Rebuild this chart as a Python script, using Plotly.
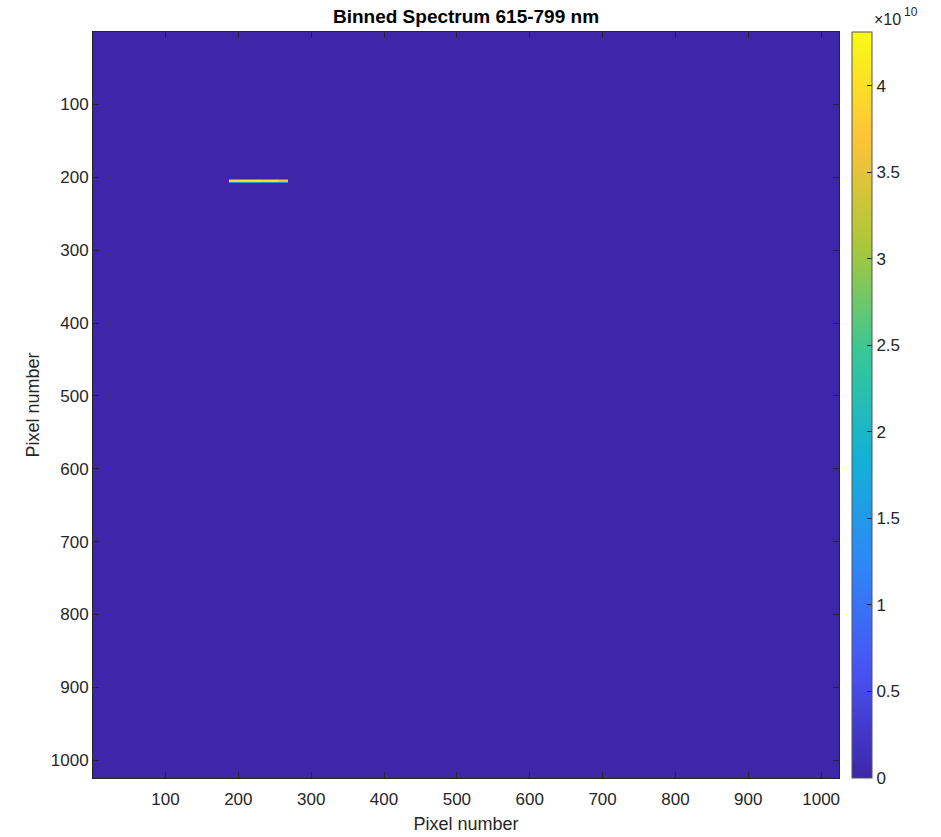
import numpy as np
import plotly.graph_objects as go

# ---- data (pixel indices and intensities) ----
x_edges = [0.5, 186.5, 200.5, 230.5, 255.5, 268.5, 1024.5]          # column bin edges
y_edges = [0.5, 202.5, 203.5, 204.5, 205.5, 206.5, 207.5, 1024.5]   # row bin edges
background = 0.0
# intensities of the bright line (rows 203..207, column segments 187-200, 201-230, 231-255, 256-268)
line_row203 = [1.6e10, 1.7e10, 1.6e10, 1.4e10]
line_row204 = [4.0e10, 4.1e10, 4.0e10, 3.7e10]
line_row205 = [4.25e10, 4.3e10, 4.25e10, 3.9e10]
line_row206 = [3.9e10, 4.0e10, 3.9e10, 3.6e10]
line_row207 = [1.4e10, 1.5e10, 1.4e10, 1.2e10]
cmin, cmax = 0.0, 4.31e10
x_ticks = [100, 200, 300, 400, 500, 600, 700, 800, 900, 1000]
y_ticks = [100, 200, 300, 400, 500, 600, 700, 800, 900, 1000]
cb_ticks = [0, 0.5, 1, 1.5, 2, 2.5, 3, 3.5, 4]
cb_labels = ["0", "0.5", "1", "1.5", "2", "2.5", "3", "3.5", "4"]

# build brick grid
ncols = len(x_edges) - 1
nrows = len(y_edges) - 1
z = np.full((nrows, ncols), background)
for r, row in enumerate([line_row203, line_row204, line_row205, line_row206, line_row207]):
    z[r + 1, 1:1 + len(row)] = row

parula = [
    [0.0, "rgb(62,38,168)"],
    [0.1429, "rgb(72,82,244)"],
    [0.2857, "rgb(46,135,247)"],
    [0.4286, "rgb(18,177,214)"],
    [0.5714, "rgb(55,200,151)"],
    [0.7143, "rgb(171,199,57)"],
    [0.8571, "rgb(254,195,56)"],
    [1.0, "rgb(249,251,21)"],
]

FONT = "Liberation Sans, Arial"

fig = go.Figure(go.Heatmap(
    z=z, x=x_edges, y=y_edges,
    colorscale=parula, zmin=cmin, zmax=cmax,
    colorbar=dict(
        x=(852 - 93) / 746, xanchor="left", xref="paper",
        y=0.5, yanchor="middle", len=1, lenmode="fraction",
        thickness=20, outlinewidth=1, outlinecolor="#555555",
        ticks="inside", ticklen=5, tickcolor="#262626",
        tickvals=[v * 1e10 for v in cb_ticks], ticktext=cb_labels,
        tickfont=dict(family=FONT, size=17, color="#262626"),
        ypad=0, xpad=0,
    ),
    showscale=True,
))

axis_common = dict(
    showline=True, linecolor="#262626", linewidth=1, mirror="ticks",
    ticks="inside", ticklen=6, tickcolor="#262626",
    showgrid=False, zeroline=False, automargin=False,
    tickfont=dict(family=FONT, size=17, color="#262626"),
)

fig.update_layout(
    width=941, height=837,
    margin=dict(l=93, r=102, t=32, b=59),
    paper_bgcolor="white", plot_bgcolor="white",
    title=dict(text="<b>Binned Spectrum 615-799 nm</b>", x=(93 + 373) / 941, xanchor="center",
               y=1 - 16 / 837, yanchor="middle", yref="container",
               font=dict(family=FONT, size=19, color="black")),
    xaxis=dict(range=[0.5, 1024.5], tickvals=x_ticks, ticklabelstandoff=6,
               title=dict(text="Pixel number", standoff=8,
                          font=dict(family=FONT, size=18, color="#262626")),
               **axis_common),
    yaxis=dict(range=[1024.5, 0.5], tickvals=y_ticks,
               title=dict(text="Pixel number", standoff=6,
                          font=dict(family=FONT, size=18, color="#262626")),
               **axis_common),
    annotations=[
        dict(text="×10", xref="paper", yref="paper",
             x=(872 - 93) / 746, y=1 + 13 / 746, xanchor="left", yanchor="middle",
             showarrow=False, font=dict(family=FONT, size=16, color="#262626")),
        dict(text="10", xref="paper", yref="paper",
             x=(902 - 93) / 746, y=1 + 20 / 746, xanchor="left", yanchor="middle",
             showarrow=False, font=dict(family=FONT, size=12, color="#262626")),
    ],
)

fig.write_html("out.html", config={"displayModeBar": False},
               post_script="document.body.style.margin='0';document.body.style.padding='0';")
